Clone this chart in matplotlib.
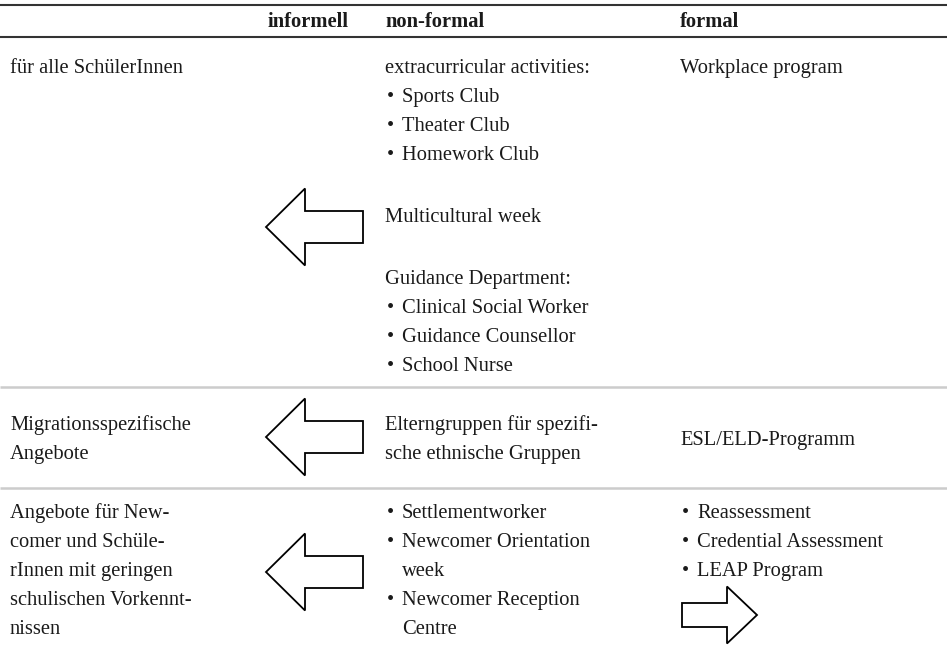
import matplotlib.pyplot as plt
from matplotlib.patches import FancyArrow

# Table content (one list of lines per cell; "• " = bullet, "  " = hanging indent, "" = blank)
headers = ["", "informell", "non-formal", "formal"]
col_target = [
    ["für alle SchülerInnen"],
    ["Migrationsspezifische", "Angebote"],
    ["Angebote für New-", "comer und Schüle-", "rInnen mit geringen",
     "schulischen Vorkennt-", "nissen"],
]
col_nonformal = [
    ["extracurricular activities:", "• Sports Club", "• Theater Club", "• Homework Club",
     "", "Multicultural week", "",
     "Guidance Department:", "• Clinical Social Worker", "• Guidance Counsellor",
     "• School Nurse"],
    ["Elterngruppen für spezifi-", "sche ethnische Gruppen"],
    ["• Settlementworker", "• Newcomer Orientation", "  week",
     "• Newcomer Reception", "  Centre"],
]
col_formal = [
    ["Workplace program"],
    ["ESL/ELD-Programm"],
    ["• Reassessment", "• Credential Assessment", "• LEAP Program"],
]

# layout (pixels, y downwards)
W, H = 947, 651
COL_X = [10, 268, 385, 680]
ROW_BASE = [73, 430, 518]
ROW_LINES = [11, 2, 5]
LINE_H = 29
BLANK_H = 33
FONT = "Liberation Serif"
FS = 14.8
TEXT = "#1a1a1a"

fig = plt.figure(figsize=(W / 100, H / 100), dpi=100)
ax = fig.add_axes([0, 0, 1, 1])
ax.set_xlim(0, W)
ax.set_ylim(H, 0)
ax.axis("off")

# rules
ax.plot([0, W], [5, 5], color="#333333", lw=1.5, solid_capstyle="butt")
ax.plot([0, W], [37, 37], color="#333333", lw=1.5, solid_capstyle="butt")
for y in [387, 488]:
    ax.plot([0, W], [y, y], color="#cccccc", lw=1.8, solid_capstyle="butt")

# header
for x, h in zip(COL_X, headers):
    ax.text(x, 27, h, fontsize=FS, fontweight="bold", family=FONT,
            color=TEXT, va="baseline", ha="left")


def draw_cell(x, base, lines, n_row_lines):
    # vertically centre short cells in the middle row
    y = base
    if n_row_lines == 2 and len(lines) == 1:
        y = base + LINE_H / 2
    for line in lines:
        if line == "":
            y += BLANK_H
            continue
        if line.startswith("• "):
            ax.text(x + 2, y, "•", fontsize=FS, family=FONT, color=TEXT, va="baseline")
            ax.text(x + 17, y, line[2:], fontsize=FS, family=FONT, color=TEXT, va="baseline")
        elif line.startswith("  "):
            ax.text(x + 17, y, line[2:], fontsize=FS, family=FONT, color=TEXT, va="baseline")
        else:
            ax.text(x, y, line, fontsize=FS, family=FONT, color=TEXT, va="baseline")
        y += LINE_H


for r in range(3):
    draw_cell(COL_X[0], ROW_BASE[r], col_target[r], ROW_LINES[r])
    draw_cell(COL_X[2], ROW_BASE[r], col_nonformal[r], ROW_LINES[r])
    draw_cell(COL_X[3], ROW_BASE[r], col_formal[r], ROW_LINES[r])

# block arrows pointing towards "informell"
for y in [227, 437, 572]:
    ax.add_patch(FancyArrow(363, y, -97, 0, width=32, head_width=77, head_length=39,
                            length_includes_head=True, facecolor="white",
                            edgecolor="black", lw=1.3, joinstyle="miter"))
# arrow pointing out of the formal column
ax.add_patch(FancyArrow(682, 615, 75, 0, width=24, head_width=57, head_length=30,
                        length_includes_head=True, facecolor="white",
                        edgecolor="black", lw=1.3, joinstyle="miter"))

fig.savefig("out.png", dpi=100, facecolor="white")
